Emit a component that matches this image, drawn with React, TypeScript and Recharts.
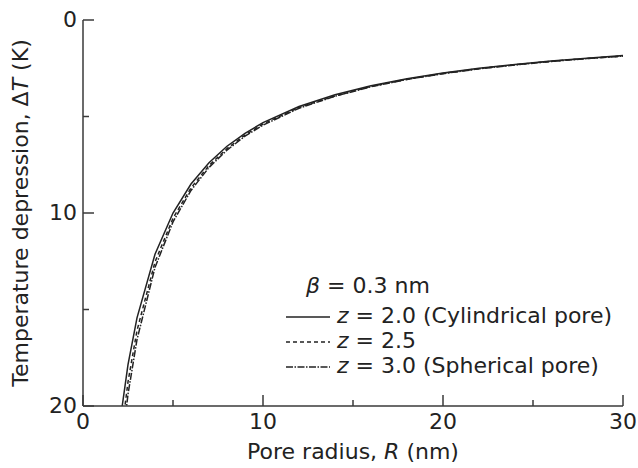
import { LineChart, Line, XAxis, YAxis, Legend } from "recharts";

const FONT = "'DejaVu Sans', Verdana, sans-serif";
const FS = 22;
const INK = "#222";
const AX = "#3a3a3a";

// pore radius R (nm)
const R_NM = [2, 2.5, 3, 4, 5, 6, 7, 8, 9, 10, 12, 14, 16, 18, 20, 22, 24, 26, 28, 30];
// temperature depression dT (K)
const DT_Z20 = [21.19, 17.86, 15.43, 12.14, 10.0, 8.5, 7.4, 6.54, 5.87, 5.32, 4.48, 3.87, 3.41, 3.04, 2.75, 2.5, 2.3, 2.13, 1.98, 1.84];
const DT_Z25 = [22.45, 18.75, 16.09, 12.54, 10.27, 8.7, 7.54, 6.66, 5.96, 5.39, 4.53, 3.94, 3.44, 3.07, 2.77, 2.52, 2.32, 2.14, 1.99, 1.87];
const DT_Z30 = [23.37, 19.39, 16.56, 12.82, 10.46, 8.83, 7.64, 6.74, 6.02, 5.45, 4.57, 3.95, 3.46, 3.08, 2.78, 2.53, 2.33, 2.15, 2.0, 1.87];

const X_TICKS = [0, 5, 10, 15, 20, 25, 30];
const Y_TICKS = [0, 5, 10, 15, 20];

const SERIES = [
  { key: "z20", z: "2.0", note: " (Cylindrical pore)", dash: undefined as string | undefined },
  { key: "z25", z: "2.5", note: "", dash: "4 3" },
  { key: "z30", z: "3.0", note: " (Spherical pore)", dash: "7 1.5 1.5 1.5" },
];

const data = R_NM.map((r, i) => ({ r, z20: DT_Z20[i], z25: DT_Z25[i], z30: DT_Z30[i] }));

const tickLen = (v: number) => (v % 10 === 0 ? 11 : 6);

function BottomTick({ x, y, payload }: any) {
  const v = payload.value;
  return (
    <g>
      <line x1={x} x2={x} y1={y} y2={y - tickLen(v)} stroke={AX} strokeWidth={1.5} />
      {v % 10 === 0 && (
        <text x={x} y={y + 23} textAnchor="middle" fontFamily={FONT} fontSize={FS} fill={INK}>{v}</text>
      )}
    </g>
  );
}

function TopTick({ x, y, payload }: any) {
  return <line x1={x} x2={x} y1={y} y2={y + tickLen(payload.value)} stroke={AX} strokeWidth={1.5} />;
}

function LeftTick({ x, y, payload }: any) {
  const v = payload.value;
  return (
    <g>
      <line x1={x} x2={x + tickLen(v)} y1={y} y2={y} stroke={AX} strokeWidth={1.5} />
      {v % 10 === 0 && (
        <text x={x - 6} y={y + 7} textAnchor="end" fontFamily={FONT} fontSize={FS} fill={INK}>{v}</text>
      )}
    </g>
  );
}

function RightTick({ x, y, payload }: any) {
  return <line x1={x} x2={x - tickLen(payload.value)} y1={y} y2={y} stroke={AX} strokeWidth={1.5} />;
}

function XTitle({ viewBox }: any) {
  const cx = viewBox.x + viewBox.width / 2;
  return (
    <text x={cx} y={viewBox.y + 53} textAnchor="middle" fontFamily={FONT} fontSize={FS} fill={INK}>
      Pore radius, <tspan fontStyle="italic">R</tspan> (nm)
    </text>
  );
}

function YTitle({ viewBox }: any) {
  const cy = viewBox.y + viewBox.height / 2;
  const x = 28;
  return (
    <text x={x} y={cy} textAnchor="middle" transform={`rotate(-90, ${x}, ${cy})`}
          fontFamily={FONT} fontSize={FS} fill={INK}>
      Temperature depression, Δ<tspan fontStyle="italic">T</tspan> (K)
    </text>
  );
}

function LegendBox() {
  const row = { position: "absolute" as const, left: 0, height: 25, lineHeight: "25px", whiteSpace: "nowrap" as const };
  return (
    <div style={{ position: "relative", width: 345, height: 110, fontFamily: FONT, fontSize: FS, color: INK }}>
      <div style={{ ...row, top: 0, left: 21 }}>
        <span style={{ fontStyle: "italic" }}>β</span> = 0.3 nm
      </div>
      {SERIES.map((s, i) => (
        <div key={s.key} style={{ ...row, top: 30 + i * 25, display: "flex", alignItems: "center" }}>
          <svg width={52} height={25} style={{ display: "block" }}>
            <line x1={1} x2={45} y1={14} y2={14} stroke={INK} strokeWidth={1.3} strokeDasharray={s.dash} />
          </svg>
          <span><span style={{ fontStyle: "italic" }}>z</span> = {s.z}{s.note}</span>
        </div>
      ))}
    </div>
  );
}

export default function App() {
  return (
    <div style={{ position: "absolute", left: 0, top: 0, background: "#fff" }}>
      <LineChart width={638} height={468} data={data} margin={{ top: 20, right: 15, bottom: 0, left: 0 }}>
        <XAxis dataKey="r" type="number" domain={[0, 30]} ticks={X_TICKS} interval={0} height={62}
               stroke={AX} strokeWidth={1.5} tickSize={0} tickMargin={0} tickLine={false}
               tick={<BottomTick />} label={<XTitle />} />
        <XAxis xAxisId="top" orientation="top" type="number" domain={[0, 30]} ticks={X_TICKS} interval={0}
               height={0} stroke={AX} strokeWidth={1.5} tickSize={0} tickMargin={0} tickLine={false}
               tick={<TopTick />} />
        <YAxis type="number" domain={[0, 20]} reversed allowDataOverflow ticks={Y_TICKS} interval={0} width={83}
               stroke={AX} strokeWidth={1.5} tickSize={0} tickMargin={0} tickLine={false}
               tick={<LeftTick />} label={<YTitle />} />
        <YAxis yAxisId="right" orientation="right" type="number" domain={[0, 20]} reversed ticks={Y_TICKS}
               interval={0} width={0} stroke={AX} strokeWidth={1.5} tickSize={0} tickMargin={0} tickLine={false}
               tick={<RightTick />} />
        <Legend layout="horizontal" verticalAlign="middle" align="center" content={<LegendBox />}
                wrapperStyle={{ position: "absolute", left: 285, top: 273, width: 345, height: 110 }} />
        {SERIES.map((s) => (
          <Line key={s.key} type="linear" dataKey={s.key} stroke={INK} strokeWidth={1.5}
                strokeDasharray={s.dash} dot={false} isAnimationActive={false} legendType="none" />
        ))}
      </LineChart>
    </div>
  );
}
